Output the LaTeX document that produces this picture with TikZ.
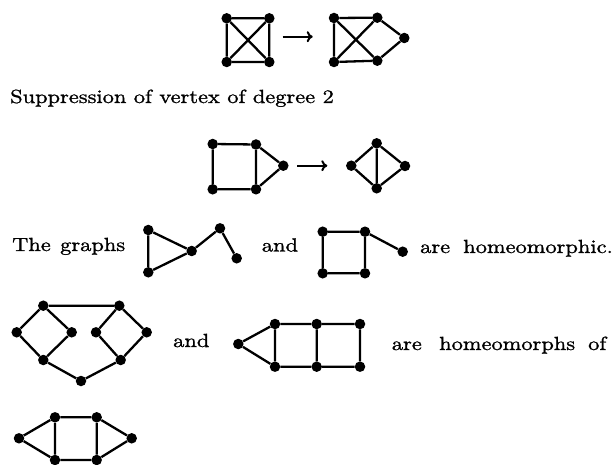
\documentclass[tikz,border=0pt]{standalone}
\usepackage{fontspec}
\newfontfamily\reffont{lmroman10-regular.otf}[FakeStretch=1.18,FakeBold=1.2]
\usetikzlibrary{arrows.meta}
\begin{document}
\begin{tikzpicture}[x=1pt,y=-1pt,
  v/.style={circle,fill=black,inner sep=0pt,minimum size=10.5pt},
  edge/.style={line width=2.3pt},
  arr/.style={line width=2pt,-{To[length=6pt,width=11pt]}},
  txt/.style={anchor=base west,inner sep=0pt,font=\reffont\fontsize{19}{22}\selectfont}]
\useasboundingbox (0,0) rectangle (616,465);
% graph A
\node[v] (a1) at (226.7,18.3) {};
\node[v] (a2) at (269.3,18.3) {};
\node[v] (a3) at (226.7,62) {};
\node[v] (a4) at (269.3,62) {};
\draw[edge] (a1)--(a2) (a2)--(a4) (a4)--(a3) (a3)--(a1) (a1)--(a4) (a2)--(a3);
\coordinate (r1s) at (282.7,36.7);
\coordinate (r1e) at (312.7,36.7);
\draw[arr] (r1s)--(r1e);
% graph B
\node[v] (b1) at (334,18) {};
\node[v] (b2) at (377.3,17.7) {};
\node[v] (b3) at (404.3,38) {};
\node[v] (b4) at (377.3,60.7) {};
\node[v] (b5) at (334,62) {};
\draw[edge] (b1)--(b2) (b2)--(b3) (b3)--(b4) (b4)--(b5) (b5)--(b1) (b1)--(b4) (b2)--(b5);
\node[txt] (t1) at (10,103) {Suppression of vertex of degree 2};
% graph C
\node[v] (c1) at (212.7,144) {};
\node[v] (c2) at (256,144.5) {};
\node[v] (c3) at (283.3,165.7) {};
\node[v] (c4) at (256,189.3) {};
\node[v] (c5) at (212.7,189.3) {};
\draw[edge] (c1)--(c2) (c2)--(c3) (c3)--(c4) (c4)--(c5) (c5)--(c1) (c2)--(c4);
\coordinate (r2s) at (297.3,165.7);
\coordinate (r2e) at (327.3,165.7);
\draw[arr] (r2s)--(r2e);
% graph D
\node[v] (d1) at (351.3,165.7) {};
\node[v] (d2) at (376.7,143.3) {};
\node[v] (d3) at (405,166) {};
\node[v] (d4) at (376.7,188.3) {};
\draw[edge] (d1)--(d2) (d2)--(d3) (d3)--(d4) (d4)--(d1) (d2)--(d4);
% row 3
\node[txt] (t2a) at (12,251) {The};
\node[txt] (t2b) at (60,251) {graphs};
\node[v] (e1) at (148.3,230) {};
\node[v] (e2) at (148.3,272.3) {};
\node[v] (e3) at (191.7,251) {};
\node[v] (e4) at (220,228.3) {};
\node[v] (e5) at (236.7,258.3) {};
\draw[edge] (e1)--(e2) (e1)--(e3) (e2)--(e3) (e3)--(e4) (e4)--(e5);
\node[txt] (t3) at (261.7,251.5) {and};
\node[v] (f1) at (322.7,231.7) {};
\node[v] (f2) at (365,231.7) {};
\node[v] (f3) at (322.7,273.3) {};
\node[v] (f4) at (365,273.3) {};
\node[v] (f5) at (402.7,251.7) {};
\draw[edge] (f1)--(f2) (f2)--(f4) (f4)--(f3) (f3)--(f1) (f2)--(f5);
\node[txt] (t4a) at (420,253) {are};
\node[txt,anchor=base east] (t4b) at (613,253) {homeomorphic.};
% row 4
\node[v] (g1) at (43.3,305.7) {};
\node[v] (g2) at (119.3,305.7) {};
\node[v] (g3) at (16.7,332.3) {};
\node[v] (g4) at (71.7,332.3) {};
\node[v] (g5) at (96,332.3) {};
\node[v] (g6) at (146.7,332.3) {};
\node[v] (g7) at (43.3,360) {};
\node[v] (g8) at (120.7,360) {};
\node[v] (g9) at (81,381) {};
\draw[edge] (g1)--(g2) (g1)--(g3) (g1)--(g4) (g3)--(g7) (g4)--(g7) (g2)--(g5) (g2)--(g6) (g5)--(g8) (g6)--(g8) (g7)--(g9) (g8)--(g9);
\node[txt] (t5) at (173,347) {and};
\node[v] (h0) at (238.3,344) {};
\node[v] (h1) at (275,324) {};
\node[v] (h2) at (316.7,324) {};
\node[v] (h3) at (360,324) {};
\node[v] (h4) at (275,366.7) {};
\node[v] (h5) at (316.7,366.7) {};
\node[v] (h6) at (360,366.7) {};
\draw[edge] (h0)--(h1) (h0)--(h4) (h1)--(h2) (h2)--(h3) (h4)--(h5) (h5)--(h6) (h1)--(h4) (h2)--(h5) (h3)--(h6);
\node[txt] (t6) at (391.7,350) {are};
\node[txt] (t7) at (439,350) {homeomorphs};
\node[txt] (t8) at (588,350) {of};
% graph I
\node[v] (i1) at (19,438.3) {};
\node[v] (i2) at (55,417.3) {};
\node[v] (i3) at (96.7,417.3) {};
\node[v] (i4) at (131.7,438.3) {};
\node[v] (i5) at (96.7,460) {};
\node[v] (i6) at (55,460) {};
\draw[edge] (i1)--(i2) (i2)--(i3) (i3)--(i4) (i4)--(i5) (i5)--(i6) (i6)--(i1) (i2)--(i6) (i3)--(i5);
\end{tikzpicture}
\end{document}
